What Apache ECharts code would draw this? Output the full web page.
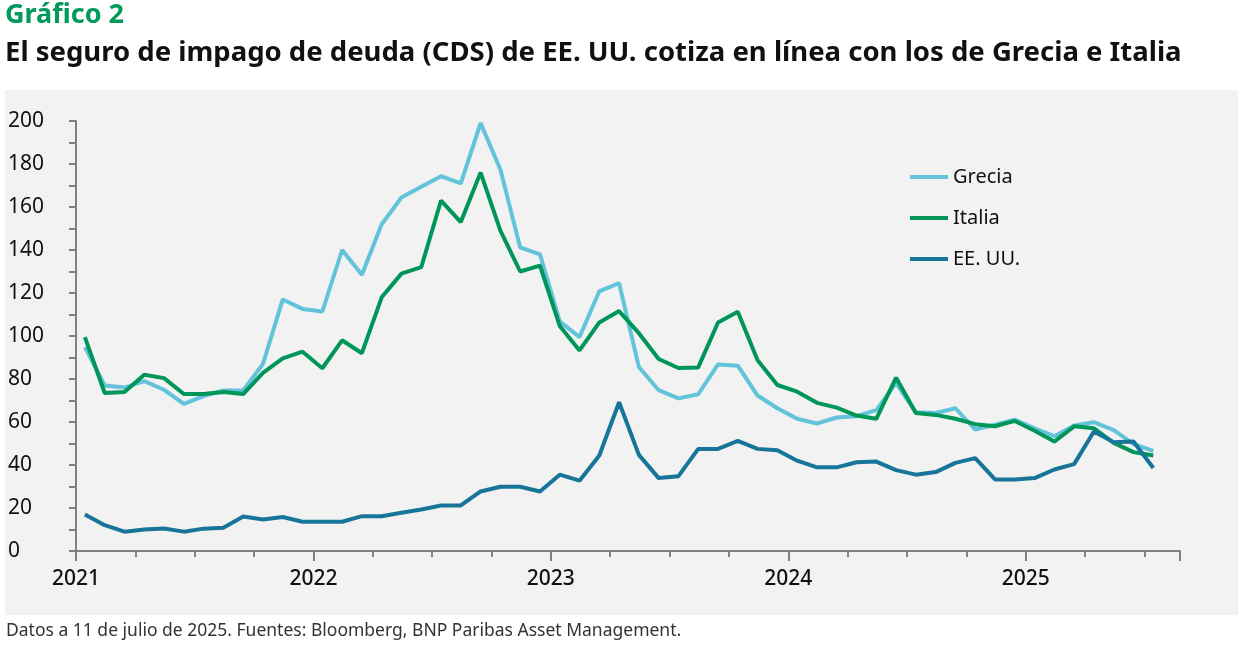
<!DOCTYPE html>
<html><head><meta charset="utf-8">
<script src="https://cdn.jsdelivr.net/npm/echarts@6/dist/echarts.min.js"></script>
<style>html,body{margin:0;padding:0;background:#fff}#c{width:1239px;height:646px}</style>
</head><body><div id="c"></div>
<script>
const yearLabels = ['2021','2022','2023','2024','2025'];
const grecia = [94.8,77,76,79,75,68.4,72,74.7,74.7,87,117,112.6,111.4,140,128.5,152,164.4,169.4,174.3,171,199,177.4,141.2,138,106.8,99.5,120.8,124.6,85.6,74.8,71.0,72.9,86.8,86.2,72.3,66.4,61.5,59.3,62.1,62.7,65.5,78.1,64.5,64.2,66.4,56.5,58.7,61.1,57.1,53.4,58.4,59.9,56.2,49.7,46.6];
const italia = [99.5,73.5,74,82,80.4,73,73,74,73,82.8,89.6,92.7,85,98,92,118,129,132,163,153,176,149,130,132.7,104.7,93.3,106.3,111.6,101.3,89.3,85.1,85.4,106.3,111.3,88.7,77.2,74.1,68.9,66.7,63,61.5,80.6,64.2,63.3,61.5,59,58,60.5,55.9,50.9,58,57.1,50.3,46,44.4];
const eeuu = [17,12,9,10,10.5,9,10.4,10.8,16,14.7,15.8,13.6,13.6,13.6,16.2,16.2,17.8,19.3,21.2,21.2,27.7,29.9,29.9,27.7,35.5,32.7,44.4,69.2,44.7,33.9,34.8,47.5,47.5,51.2,47.5,46.9,42,38.9,38.9,41.3,41.6,37.6,35.5,36.7,41,43.2,33.3,33.3,33.9,37.9,40.4,55.6,50.6,50.9,38.6];
const toXY = arr => arr.map((v,i)=>[i+0.45,v]);
const chart = echarts.init(document.getElementById('c'));
const F = 'Noto Sans';
chart.setOption({
  animation:false,
  graphic:[
    {type:'rect',z:-10,shape:{x:5,y:90,width:1233,height:525},style:{fill:'#f2f2f2'}},
    {type:'text',left:5,top:2,style:{text:'Gráfico 2',fill:'#009a5a',font:'bold 27px "Noto Sans"'}},
    {type:'text',left:5,top:39,style:{text:'El seguro de impago de deuda (CDS) de EE. UU. cotiza en línea con los de Grecia e Italia',fill:'#111',font:'bold 27.5px "Noto Sans"'}},
    {type:'text',left:6,top:622,style:{text:'Datos a 11 de julio de 2025. Fuentes: Bloomberg, BNP Paribas Asset Management.',fill:'#333',font:'17.5px "Noto Sans"'}}
  ],
  grid:{left:76,right:59,top:121,bottom:95},
  legend:{orient:'vertical',left:905,top:162,itemGap:21,itemWidth:38,itemHeight:4,icon:'rect',
    textStyle:{fontFamily:F,fontSize:20,color:'#111'},data:['Grecia','Italia','EE. UU.']},
  xAxis:[{type:'value',min:0,max:55.8,interval:3,
    axisLine:{lineStyle:{color:'#808080',width:2}},
    axisTick:{length:6,lineStyle:{color:'#808080',width:2}},
    splitLine:{show:false},
    axisLabel:{showMaxLabel:false,margin:18,fontFamily:F,fontSize:21,color:'#111',fontWeight:500,
      formatter:v=>v%12===0?yearLabels[v/12]:''}},
   {type:'value',min:0,max:55.8,interval:12,position:'bottom',
    axisLine:{show:false},axisTick:{length:10,lineStyle:{color:'#808080',width:2}},
    axisLabel:{show:false},splitLine:{show:false}}],
  yAxis:{type:'value',min:0,max:200,interval:20,
    axisLine:{show:true,lineStyle:{color:'#808080',width:2}},
    axisTick:{show:true,length:7,lineStyle:{color:'#808080',width:2}},
    minorTick:{show:true,splitNumber:2,length:7,lineStyle:{color:'#808080',width:2}},
    splitLine:{show:false},
    axisLabel:{align:'left',margin:68,fontFamily:F,fontSize:21,color:'#111'}},
  series:[
    {name:'Grecia',type:'line',data:toXY(grecia),symbol:'none',color:'#62c3da',lineStyle:{width:4}},
    {name:'Italia',type:'line',data:toXY(italia),symbol:'none',color:'#00965a',lineStyle:{width:4}},
    {name:'EE. UU.',type:'line',data:toXY(eeuu),symbol:'none',color:'#17759a',lineStyle:{width:4}}
  ]
});
</script></body></html>
